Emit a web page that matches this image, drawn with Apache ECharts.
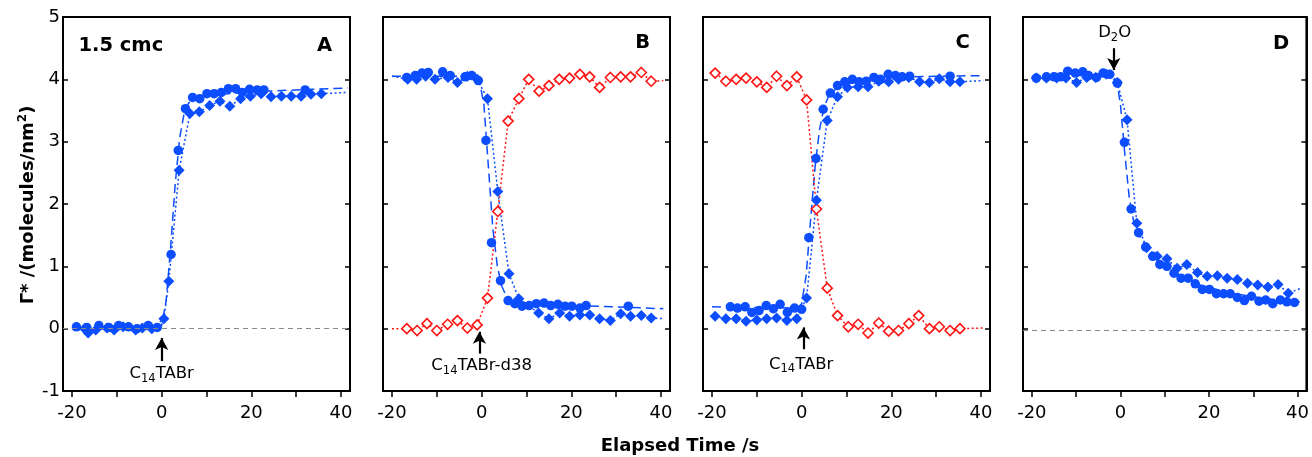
<!DOCTYPE html>
<html>
<head>
<meta charset="utf-8">
<script src="https://cdn.jsdelivr.net/npm/echarts@6/dist/echarts.min.js"></script>
<style>html,body{margin:0;padding:0;background:#fff}#c{width:1312px;height:457px}</style>
</head>
<body>
<div id="c"></div>
<script>
// ---------- data ----------
const xTickValues = [-20, -10, 0, 10, 20, 30, 40];
const xLabelValues = [-20, 0, 20, 40];
const panelLetters = ['A', 'B', 'C', 'D'];

// Panel A
const aCircles = [[-19,0.03],[-16.7,0.02],[-14,0.05],[-11.8,0.02],[-9.6,0.05],[-7.4,0.03],[-5.5,0.0],[-3,0.05],[-1,0.02],[2.1,1.19],[3.7,2.86],[5.3,3.53],[6.9,3.71],[8.5,3.69],[10.1,3.77],[11.7,3.77],[13.3,3.79],[14.9,3.85],[16.5,3.85],[18,3.79],[19.6,3.84],[21.3,3.83],[22.8,3.83],[32,3.83]];
const aDiamonds = [[-17.2,0.0],[-16.4,-0.07],[-14.7,-0.02],[-12.2,0.01],[-10.6,-0.02],[-8.6,0.03],[-5.8,-0.02],[-4.3,0.01],[-2.2,0.0],[0.5,0.16],[1.6,0.76],[3.9,2.54],[6.3,3.45],[8.4,3.48],[10.7,3.58],[13,3.65],[15.2,3.57],[17.6,3.69],[19.8,3.73],[22.2,3.77],[24.4,3.72],[26.7,3.73],[28.9,3.73],[31.1,3.73],[33.3,3.76],[35.6,3.77]];
const aDottedEnds = [[-20,0.0],[41.5,3.79]];
const aFit = [[-20,0.0],[-1,0.0],[0,0.05],[1,0.45],[2,1.3],[3,2.3],[4,3.05],[5,3.45],[6,3.62],[8,3.7],[12,3.75],[20,3.8],[30,3.83],[41.5,3.86]];

// Panel B
const bCircles = [[-16.7,4.03],[-14.8,4.06],[-13.3,4.1],[-11.9,4.11],[-8.7,4.12],[-7,4.06],[-3.7,4.04],[-2.2,4.06],[-0.75,3.98],[0.96,3.02],[2.2,1.38],[4.2,0.77],[5.9,0.45],[7.4,0.40],[9,0.36],[10.6,0.37],[12.2,0.40],[13.9,0.41],[15.4,0.37],[17,0.39],[18.6,0.36],[20.1,0.36],[21.9,0.33],[23.3,0.37],[32.7,0.36]];
const bDiamonds = [[-16.5,4.0],[-14.5,4.0],[-12.5,4.05],[-10.4,4.0],[-7.5,4.03],[-5.4,3.95],[-3.2,4.05],[-1,4.0],[1.3,3.69],[3.6,2.2],[6.1,0.88],[8.3,0.48],[12.7,0.25],[15,0.16],[17.4,0.25],[19.6,0.2],[21.9,0.22],[24.1,0.22],[26.3,0.16],[28.7,0.13],[31,0.24],[33.2,0.2],[35.6,0.21],[37.8,0.17]];
const bDottedEnds = [[-20,4.05],[40.5,0.16]];
const bFit = [[-20,4.05],[-2,4.05],[-0.5,3.97],[0.5,3.6],[1.5,2.6],[2.5,1.6],[3.5,1.0],[4.5,0.68],[5.5,0.52],[7,0.44],[12,0.4],[20,0.37],[30,0.35],[40.5,0.32]];
const bRed = [[-16.7,0],[-14.4,-0.03],[-12.2,0.08],[-10,-0.03],[-7.6,0.07],[-5.4,0.13],[-3.2,0.01],[-1,0.06],[1.3,0.49],[3.6,1.88],[5.9,3.33],[8.3,3.69],[10.5,4.0],[12.8,3.81],[15,3.9],[17.3,4.0],[19.6,4.02],[21.9,4.08],[24.1,4.04],[26.3,3.87],[28.7,4.03],[31,4.04],[33.2,4.04],[35.6,4.11],[37.8,3.97]];
const bRedEnds = [[-20,0.0],[40.5,3.98]];

// Panel C
const cCircles = [[-15.9,0.35],[-14.3,0.33],[-12.6,0.35],[-11.1,0.26],[-9.5,0.29],[-7.9,0.37],[-6.3,0.32],[-4.8,0.39],[-3.2,0.26],[-1.6,0.33],[0,0.31],[1.6,1.46],[3.2,2.73],[4.8,3.52],[6.4,3.78],[8,3.9],[9.6,3.96],[11.3,4.0],[12.8,3.96],[14.4,3.97],[16.1,4.03],[17.6,4.0],[19.3,4.08],[20.9,4.06],[22.4,4.04],[24.1,4.05],[33.1,4.05]];
const cDiamonds = [[-19.3,0.2],[-16.9,0.16],[-14.6,0.16],[-12.4,0.12],[-10,0.14],[-7.8,0.16],[-5.6,0.17],[-3.3,0.13],[-1.1,0.16],[1.1,0.49],[3.3,2.06],[5.7,3.34],[8,3.72],[10.2,3.87],[12.6,3.88],[14.8,3.88],[17.2,3.97],[19.4,3.96],[21.6,4.0],[23.9,4.03],[26.3,3.96],[28.5,3.95],[30.7,4.01],[33.1,3.96],[35.3,3.96]];
const cDottedEnds = [null,[40.5,3.98]];
const cFit = [[-20,0.35],[-1,0.33],[0,0.4],[1,0.85],[2,1.75],[3,2.6],[4,3.2],[5,3.55],[6,3.73],[8,3.87],[12,3.96],[20,4.03],[30,4.05],[40.5,4.06]];
const cRed = [[-19.3,4.1],[-16.9,3.97],[-14.6,4.0],[-12.4,4.02],[-10,3.96],[-7.8,3.87],[-5.6,4.05],[-3.3,3.9],[-1.1,4.04],[1.1,3.67],[3.3,1.92],[5.7,0.65],[8,0.21],[10.4,0.03],[12.6,0.07],[14.8,-0.07],[17.2,0.09],[19.4,-0.04],[21.6,-0.03],[23.9,0.08],[26.1,0.21],[28.5,0.0],[30.7,0.03],[33.1,-0.03],[35.3,0.0]];
const cRedEnds = [null,[40.5,0.01]];

// Panel D
const dCircles = [[-19,4.02],[-16.7,4.04],[-15,4.04],[-13.5,4.04],[-11.9,4.13],[-10.2,4.1],[-8.5,4.12],[-7.2,4.06],[-5.4,4.03],[-3.9,4.1],[-2.4,4.08],[-0.7,3.94],[0.9,2.99],[2.4,1.92],[4.1,1.54],[5.7,1.31],[7.3,1.16],[8.9,1.03],[10.5,1.0],[12.1,0.89],[13.7,0.81],[15.3,0.81],[16.9,0.72],[18.5,0.63],[20.1,0.63],[21.7,0.56],[23.3,0.56],[24.8,0.56],[26.4,0.5],[28,0.45],[29.6,0.52],[31.3,0.44],[32.8,0.46],[34.4,0.4],[36.1,0.46],[37.6,0.43],[39.3,0.42]];
const dDiamonds = [[-19,4.02],[-16.7,4.02],[-14.4,4.02],[-12.3,4.02],[-9.9,3.95],[-7.6,4.03],[-5.6,4.03],[-3.2,4.08],[-0.7,3.95],[1.5,3.35],[3.7,1.69],[5.9,1.3],[8.3,1.16],[10.5,1.12],[12.8,0.97],[15,1.03],[17.4,0.9],[19.6,0.84],[21.9,0.85],[24.1,0.81],[26.4,0.79],[28.7,0.73],[31,0.7],[33.3,0.67],[35.6,0.71],[37.9,0.57]];
const dDottedEnds = [[-20,4.03],[40.5,0.64]];
const dFit = [[-20,4.05],[-2,4.07],[-0.8,3.97],[0,3.6],[1,2.8],[2,2.1],[3,1.72],[4,1.52],[6,1.3],[9,1.07],[13,0.87],[18,0.7],[25,0.57],[32,0.49],[40.5,0.43]];

// reference (baseline) lines
const baselines = [0, null, null, -0.03];

// ---------- styling ----------
const FONT = 'DejaVu Sans';
const BLUE = '#0b4dff';
const RED = '#ff1414';
const lefts = [63, 383, 703, 1023];

const panels = [
  {circles:aCircles, diamonds:aDiamonds, dEnds:aDottedEnds, fit:aFit},
  {circles:bCircles, diamonds:bDiamonds, dEnds:bDottedEnds, fit:bFit, red:bRed, rEnds:bRedEnds},
  {circles:cCircles, diamonds:cDiamonds, dEnds:cDottedEnds, fit:cFit, red:cRed, rEnds:cRedEnds},
  {circles:dCircles, diamonds:dDiamonds, dEnds:dDottedEnds, fit:dFit}
];

function withEnds(pts, ends){
  const out = [];
  if (ends && ends[0]) out.push(ends[0]);
  pts.forEach(p => out.push(p));
  if (ends && ends[1]) out.push(ends[1]);
  return out;
}

const grids = [], xAxes = [], yAxes = [], series = [];
const noStroke = {textBorderWidth: 0, textBorderColor: 'transparent', textShadowBlur: 0, opacity: 1};
const sub = Object.assign({fontFamily: FONT, fontSize: 11.5, color: '#000', padding: [9, 0, 0, 0]}, noStroke);
const norm = Object.assign({fontFamily: FONT, fontSize: 16.5, color: '#000'}, noStroke);
const big = Object.assign({fontFamily: FONT, fontSize: 19.5, fontWeight: 'bold', color: '#000'}, noStroke);

// annotations in data coordinates
const annotations = [
  [{pos:[36.3,4.54], text:'{b|A}'}, {pos:[-9.1,4.54], text:'{b|1.5 cmc}'}, {pos:[0,-0.73], text:'{n|C}{s|14}{n|TABr}'}],
  [{pos:[35.9,4.58], text:'{b|B}'}, {pos:[0,-0.6], text:'{n|C}{s|14}{n|TABr-d38}'}],
  [{pos:[35.9,4.58], text:'{b|C}'}, {pos:[-0.1,-0.58], text:'{n|C}{s|14}{n|TABr}'}],
  [{pos:[36.3,4.56], text:'{b|D}'}, {pos:[-1.3,4.74], text:'{n|D}{s|2}{n|O}'}]
];
const arrows = [
  [[0,-0.52],[0,-0.15]],
  [[-0.5,-0.4],[-0.5,-0.05]],
  [[0.4,-0.33],[0.4,0.02]],
  [[-1.5,4.5],[-1.5,4.15]]
];

panels.forEach((p, i) => {
  grids.push({left: lefts[i], top: 17, width: 287, height: 374, show: true, borderColor: '#000', borderWidth: 2, backgroundColor: 'transparent'});
  xAxes.push({
    gridIndex: i, type: 'value', min: -22, max: 42,
    axisLine: {show: true, onZero: false, lineStyle: {color: '#000', width: 2}},
    axisTick: {show: true, inside: false, length: 6, customValues: xTickValues, lineStyle: {color: '#000', width: 1.5}},
    axisLabel: {show: true, customValues: xLabelValues, fontFamily: FONT, fontSize: 18, color: '#000', margin: 13},
    splitLine: {show: false}
  });
  yAxes.push({
    gridIndex: i, type: 'value', min: -1, max: 5, interval: 1, position: 'left',
    axisLine: {show: true, onZero: false, lineStyle: {color: '#000', width: 2}},
    axisTick: {show: true, inside: true, length: 5, lineStyle: {color: '#000', width: 1.5}},
    axisLabel: {show: i === 0, fontFamily: FONT, fontSize: 18, color: '#000', margin: 3},
    splitLine: {show: false}
  });
  yAxes.push({
    gridIndex: i, type: 'value', min: -1, max: 5, interval: 1, position: 'right',
    axisLine: {show: true, onZero: false, lineStyle: {color: '#000', width: 2}},
    axisTick: {show: true, inside: true, length: 5, lineStyle: {color: '#000', width: 1.5}},
    axisLabel: {show: false},
    splitLine: {show: false}
  });
  const yi = i * 2;
  const common = {xAxisIndex: i, yAxisIndex: yi, animation: false, silent: true};

  // annotation series (texts + arrow)
  series.push(Object.assign({}, common, {
    type: 'scatter', symbolSize: 0, z: 5,
    itemStyle: {color: '#000'},
    data: annotations[i].map(a => ({value: a.pos, label: Object.assign({show: true, position: 'inside', color: '#000', formatter: a.text, rich: {n: norm, s: sub, b: big}}, noStroke)})),
    markLine: {
      silent: true, symbol: ['none', 'arrow'], symbolSize: [10, 12], animation: false,
      label: {show: false},
      lineStyle: {color: '#000', width: 2.2, type: 'solid', opacity: 1},
      data: [[{coord: arrows[i][0]}, {coord: arrows[i][1]}]]
    }
  }));
  if (baselines[i] !== null) {
    series.push(Object.assign({}, common, {
      type: 'line', data: [], z: 1,
      markLine: {silent: true, symbol: ['none','none'], animation: false, label: {show: false},
        lineStyle: {color: '#888', width: 1, type: [5, 4]}, data: [{yAxis: baselines[i]}]}
    }));
  }
  // dashed fit for circles
  series.push(Object.assign({}, common, {
    type: 'line', data: p.fit, showSymbol: false, z: 2,
    lineStyle: {color: BLUE, width: 1.5, type: [9, 5]}
  }));
  // dotted connection of diamonds
  series.push(Object.assign({}, common, {
    type: 'line', data: withEnds(p.diamonds, p.dEnds), showSymbol: false, z: 2,
    lineStyle: {color: BLUE, width: 1.5, type: [2, 2.5]}
  }));
  if (p.red) {
    series.push(Object.assign({}, common, {
      type: 'line', data: withEnds(p.red, p.rEnds), showSymbol: false, z: 2,
      lineStyle: {color: RED, width: 1.5, type: [2, 2.5]}
    }));
    series.push(Object.assign({}, common, {
      type: 'scatter', data: p.red, symbol: 'diamond', symbolSize: 10, z: 3,
      itemStyle: {color: '#fff', borderColor: RED, borderWidth: 1.6, opacity: 1}
    }));
  }
  series.push(Object.assign({}, common, {
    type: 'scatter', data: p.diamonds, symbol: 'diamond', symbolSize: 11, z: 3,
    itemStyle: {color: BLUE, opacity: 1}
  }));
  series.push(Object.assign({}, common, {
    type: 'scatter', data: p.circles, symbol: 'circle', symbolSize: 9.5, z: 4,
    itemStyle: {color: BLUE, opacity: 1}
  }));
});

const chart = echarts.init(document.getElementById('c'), null, {renderer: 'canvas'});
chart.setOption({
  animation: false,
  backgroundColor: '#fff',
  grid: grids, xAxis: xAxes, yAxis: yAxes, series: series,
  graphic: [
    {type: 'text', x: 28, y: 205, rotation: Math.PI / 2, silent: true,
      style: {text: '{b|Γ* /(molecules/nm}{p|2}{b|)}', align: 'center', verticalAlign: 'middle',
        rich: {b: {fontFamily: FONT, fontSize: 18, fontWeight: 'bold', fill: '#000', color: '#000'},
               p: {fontFamily: FONT, fontSize: 12, fontWeight: 'bold', fill: '#000', color: '#000', padding: [0, 0, 10, 0]}}}},
    {type: 'text', x: 680, y: 446, silent: true,
      style: {text: 'Elapsed Time /s', align: 'center', verticalAlign: 'middle', fontFamily: FONT, fontSize: 18, fontWeight: 'bold', fill: '#000'}}
  ]
});
</script>
</body>
</html>
